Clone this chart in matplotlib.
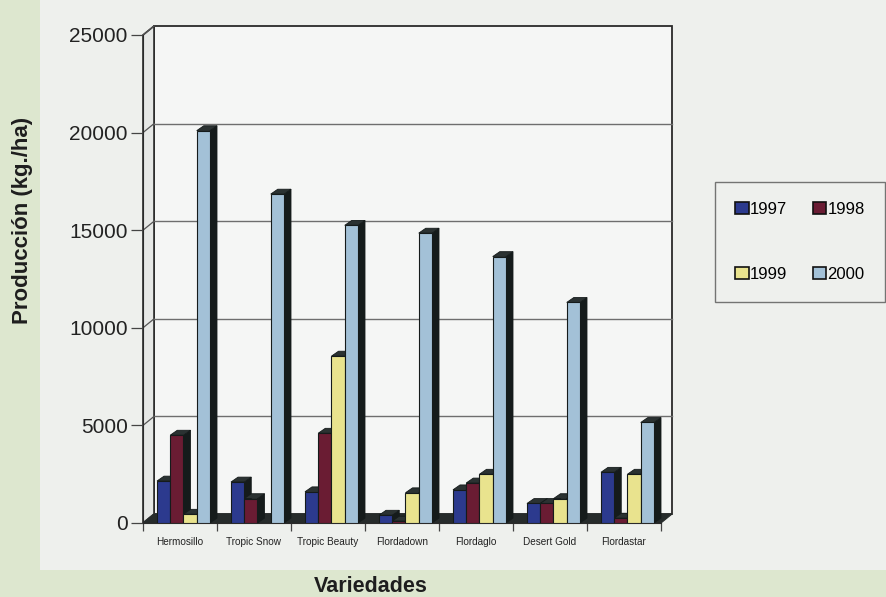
import matplotlib

matplotlib.use("Agg")
import matplotlib.pyplot as plt
from matplotlib.patches import Polygon, Rectangle, Patch

plt.rcParams["font.family"] = ["Liberation Sans", "DejaVu Sans"]

# ── Data (kg./ha) ────────────────────────────────────────────────────
varieties = ["Hermosillo", "Tropic Snow", "Tropic Beauty", "Flordadown",
             "Flordaglo", "Desert Gold", "Flordastar"]
years = ["1997", "1998", "1999", "2000"]
prod_1997 = [2150, 2100, 1600, 400, 1700, 1000, 2600]
prod_1998 = [4500, 1250, 4600, 100, 2050, 1000, 250]
prod_1999 = [450, 0, 8550, 1550, 2500, 1250, 2500]
prod_2000 = [20100, 16850, 15250, 14850, 13650, 11300, 5150]
y_ticks = [0, 5000, 10000, 15000, 20000, 25000]

series = [prod_1997, prod_1998, prod_1999, prod_2000]
colors = ["#2c3a8e", "#6a1c33", "#e9e38e", "#a3c1d7"]

# ── Styling / pseudo-3D geometry ─────────────────────────────────────
GREEN = "#dde7cf"
PANEL = "#eef0ed"
WALL = "#f5f6f5"
DARK = "#151b1b"
YMAX = 25000
DX, DY = 0.149, 460          # depth of the walls (category units, kg/ha)
BDX, BDY = 0.095, 250        # depth of each column
BW = 0.179                   # column width
LEFT_GAP = 0.189             # gap from category edge to first column

fig = plt.figure(figsize=(8.87, 5.97), dpi=100)
fig.patch.set_facecolor(GREEN)
fig.patches.append(Rectangle((40 / 887, 27 / 597), 1, 1, transform=fig.transFigure,
                             facecolor=PANEL, edgecolor="none", zorder=-5))

ax = fig.add_axes([143 / 887, 74 / 597, 518 / 887, 488 / 597])
ax.set_facecolor("none")
ax.set_xlim(-0.5, len(varieties) - 0.5)
ax.set_ylim(0, YMAX)
x_lo, x_hi = -0.5, len(varieties) - 0.5

# back wall, side wall and floor
ax.add_patch(Rectangle((x_lo + DX, DY), x_hi - x_lo, YMAX, facecolor=WALL,
                       edgecolor="#2a2a2a", lw=1.3, clip_on=False, zorder=0))
ax.add_patch(Polygon([(x_lo, 0), (x_lo + DX, DY), (x_lo + DX, YMAX + DY), (x_lo, YMAX)],
                     facecolor="#e6e8e6", edgecolor="#2a2a2a", lw=1.2,
                     clip_on=False, zorder=0.5))
for yt in y_ticks[1:-1]:
    ax.plot([x_lo + DX, x_hi + DX], [yt + DY, yt + DY], color="#6e6e6e", lw=1.0,
            clip_on=False, zorder=0.6)
for yt in y_ticks:
    ax.plot([x_lo, x_lo + DX], [yt, yt + DY], color="#555555", lw=0.9,
            clip_on=False, zorder=0.6)
ax.add_patch(Polygon([(x_lo, 0), (x_hi, 0), (x_hi + DX, DY), (x_lo + DX, DY)],
                     facecolor="#262b2b", edgecolor="#262b2b", lw=0.8,
                     clip_on=False, zorder=1))

# columns: front face from ax.bar, top and side faces from each bar patch
for i, (vals, col) in enumerate(zip(series, colors)):
    pos = [k - 0.5 + LEFT_GAP + BW * (i + 0.5) for k in range(len(varieties))]
    bars = ax.bar(pos, vals, width=BW, color=col, edgecolor=DARK, lw=0.8,
                  zorder=3 + i + 0.5, label=years[i])
    for b in bars:
        x0, w, h = b.get_x(), b.get_width(), b.get_height()
        if h <= 0:
            continue
        side = [(x0 + w, 0), (x0 + w + BDX, BDY), (x0 + w + BDX, h + BDY), (x0 + w, h)]
        top = [(x0, h), (x0 + w, h), (x0 + w + BDX, h + BDY), (x0 + BDX, h + BDY)]
        ax.add_patch(Polygon(side, facecolor=DARK, edgecolor=DARK, lw=0.6,
                             clip_on=False, zorder=3 + i))
        ax.add_patch(Polygon(top, facecolor="#2b3232", edgecolor=DARK, lw=0.6,
                             clip_on=False, zorder=3 + i))

# axes, ticks and labels
for s in ["top", "right"]:
    ax.spines[s].set_visible(False)
ax.spines["left"].set_color("#2a2a2a")
ax.spines["bottom"].set_color("#2a2a2a")
ax.spines["left"].set_zorder(2)
ax.spines["bottom"].set_zorder(2)

ax.set_yticks(y_ticks)
ax.set_yticklabels([str(v) for v in y_ticks], fontsize=15, color="#222222")
ax.tick_params(axis="y", length=9, width=0.9, color="#444444", pad=2)

ax.set_xticks([k - 0.5 for k in range(len(varieties) + 1)])
ax.set_xticklabels([])
ax.tick_params(axis="x", which="major", length=6, width=0.9, color="#444444")
ax.set_xticks(range(len(varieties)), minor=True)
ax.set_xticklabels(varieties, minor=True, fontsize=7.2, color="#222222")
ax.tick_params(axis="x", which="minor", length=0, pad=10)

fig.text(23 / 887, 1 - 220 / 597, "Producción (kg./ha)", rotation=90, fontsize=16,
         fontweight="bold", color="#1e1e1e", ha="center", va="center")
fig.text(371 / 887, 1 - 586 / 597, "Variedades", fontsize=15.5, fontweight="bold",
         color="#1e1e1e", ha="center", va="center")

# legend fills column by column: reorder so rows read 1997 1998 / 1999 2000
order = [0, 2, 1, 3]
handles = [Patch(facecolor=colors[j], edgecolor="#111111", lw=1.2) for j in order]
leg = fig.legend(handles, [years[j] for j in order], loc="center", ncol=2,
                 bbox_to_anchor=(800 / 887, 1 - 242 / 597), fontsize=12,
                 frameon=True, fancybox=False, handlelength=0.8, handleheight=0.75,
                 handletextpad=0.1, columnspacing=1.5, labelspacing=3.0,
                 borderpad=1.2)
leg.get_frame().set_facecolor(PANEL)
leg.get_frame().set_edgecolor("#555555")
leg.get_frame().set_linewidth(1.0)

plt.savefig("out.png", dpi=100, facecolor=fig.get_facecolor())
